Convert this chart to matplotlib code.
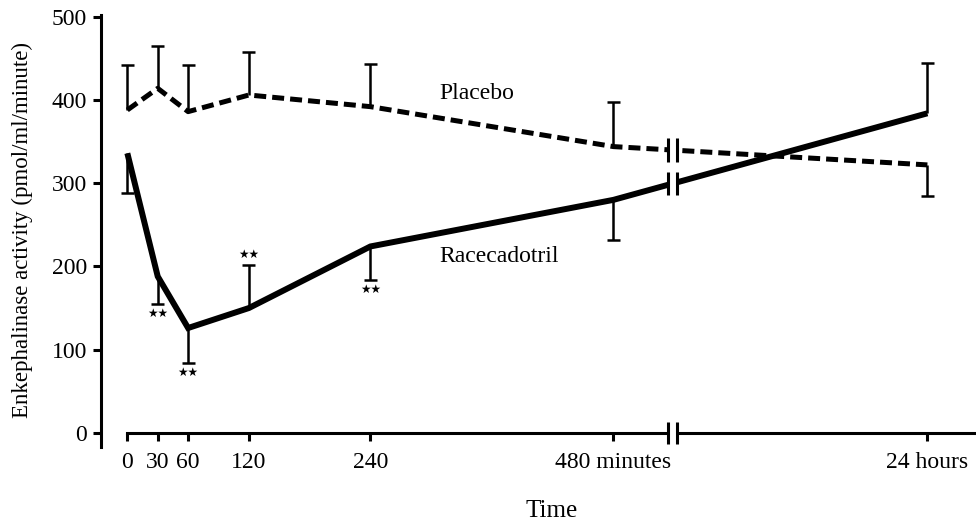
import numpy as np
import matplotlib.pyplot as plt

plt.rcParams['font.family'] = ['Liberation Serif', 'DejaVu Serif']

# sampling times (minutes) and tick labels
time_min = [0, 30, 60, 120, 240, 480, 1440]
tick_labels = ['0', '30', '60', '120', '240', '480 minutes', '24 hours']

# mean enkephalinase activity (pmol/ml/minute)
placebo = [388, 414, 386, 406, 392, 344, 322]
racecadotril = [336, 188, 126, 150, 224, 280, 384]

# one-sided SEM bars: length and direction (+1 up, -1 down)
placebo_err = [54, 51, 56, 52, 51, 54, 37]
placebo_dir = [1, 1, 1, 1, 1, 1, -1]
race_err = [48, 33, 42, 52, 40, 48, 60]
race_dir = [-1, -1, -1, 1, -1, -1, 1]

# significance marks on racecadotril (index, above/below)
sig_idx = [1, 2, 3, 4]
sig_side = [-1, -1, 1, -1]

# broken time axis: linear up to 480 min, then a break, then 24 h
BREAK_POS = 538
DAY_POS = 790


def axis_pos(t):
    return t if t <= 480 else DAY_POS


x = np.array([axis_pos(t) for t in time_min], dtype=float)

fig = plt.figure(figsize=(9.76, 5.21), dpi=100)
ax = fig.add_axes([0.1035, 0.142, 0.8965, 0.829])
ax.set_xlim(-26, 838)
ax.set_ylim(-17, 502)

ax.plot(x, racecadotril, color='black', lw=4.3, solid_capstyle='butt',
        solid_joinstyle='miter', zorder=3)
ax.plot(x, placebo, color='black', lw=3.6, linestyle=(0, (2.4, 1.2)),
        dash_capstyle='butt', zorder=3)


def err_bars(vals, err, direc):
    vals = np.array(vals, dtype=float)
    ends = vals + np.array(err) * np.array(direc)
    ax.vlines(x, vals, ends, color='black', lw=1.8, zorder=2)
    ax.hlines(ends, x - 6.5, x + 6.5, color='black', lw=1.8, zorder=2)
    return ends


err_bars(placebo, placebo_err, placebo_dir)
r_ends = err_bars(racecadotril, race_err, race_dir)

for i, s in zip(sig_idx, sig_side):
    ax.text(x[i], r_ends[i] + s * 4, '★★', family='DejaVu Sans', fontsize=8.5,
            ha='center', va='bottom' if s > 0 else 'top', zorder=4)

# axis break
gap = 4.5
ax.axvspan(BREAK_POS - gap, BREAK_POS + gap, color='white', zorder=5, lw=0)
for yv in [np.interp(BREAK_POS, x, placebo), np.interp(BREAK_POS, x, racecadotril), 0]:
    h = 14 if yv else 13
    ax.vlines([BREAK_POS - gap, BREAK_POS + gap], yv - h, yv + h,
              color='black', lw=2.2, zorder=6)

ax.text(308, 408, 'Placebo', fontsize=17, va='center')
ax.text(308, 212, 'Racecadotril', fontsize=17, va='center')

for side in ['top', 'right']:
    ax.spines[side].set_visible(False)
ax.spines['left'].set_linewidth(2.2)
ax.spines['bottom'].set_linewidth(2.2)
ax.spines['bottom'].set_position(('data', 0))
ax.spines['bottom'].set_bounds(0, 838)
ax.spines['left'].set_bounds(-17, 502)

ax.set_yticks([0, 100, 200, 300, 400, 500])
ax.set_xticks(x)
ax.set_xticklabels(tick_labels)
ax.tick_params(axis='both', width=2.2, length=6, labelsize=17, color='black')
ax.tick_params(axis='x', pad=8)
ax.tick_params(axis='y', pad=4)

fig.text(22 / 976, 0.558, 'Enkephalinase activity (pmol/ml/minute)', fontsize=16.5,
         rotation=90, ha='center', va='center')
fig.text(0.5656, 0.02, 'Time', fontsize=18, ha='center', va='center')

fig.savefig('out.png', dpi=100)
